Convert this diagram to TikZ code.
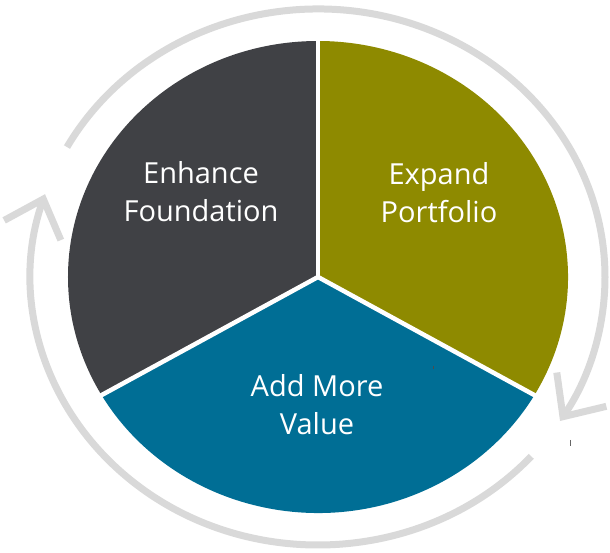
\documentclass[tikz,border=0pt]{standalone}
\usepackage{fontspec}
\setmainfont{Open Sans}
\usetikzlibrary{arrows.meta}
\definecolor{darkpie}{HTML}{404145}
\definecolor{olivepie}{HTML}{8E8A00}
\definecolor{bluepie}{HTML}{006E95}
\definecolor{ringgray}{HTML}{D9D9D9}

\begin{document}
\begin{tikzpicture}[x=1pt,y=1pt]
        \clip (-318,-276) rectangle (292,277);

        % the three sectors
        \fill[darkpie] (0,0) -- ({250*cos(90)},{236*sin(90)})
            arc[start angle=90, end angle=210, x radius=250, y radius=236] -- cycle;
        \fill[olivepie] (0,0) -- ({250*cos(-30)},{236*sin(-30)})
            arc[start angle=-30, end angle=90, x radius=250, y radius=236] -- cycle;
        \fill[bluepie] (0,0) -- ({250*cos(210)},{236*sin(210)})
            arc[start angle=210, end angle=330, x radius=250, y radius=236] -- cycle;
        \foreach \a in {90,210,330}
            \draw[white, line width=4.5pt] (0,0) -- ({256*cos(\a)},{242*sin(\a)});

        \begin{scope}[every node/.style={text=white, align=center,
                    font=\fontsize{29}{38}\selectfont}]
            \node (enhance) at (-117,85) {Enhance\\Foundation};
            \node (expand) at (121,84) {Expand\\Portfolio};
            \node (addvalue) at (-1,-128) {Add More\\Value};
        \end{scope}

        % cycle arrows round the pie
        \begin{scope}[ringgray, line width=7pt,
                    -{Straight Barb[length=33pt, width=60pt]}]
            \draw ({287*cos(151)},{268*sin(151)})
                arc[start angle=151, end angle=-32.5, x radius=287, y radius=268];
            \draw ({287*cos(-42)},{268*sin(-42)})
                arc[start angle=-42, end angle=-198, x radius=287, y radius=268];
        \end{scope}

        \draw[black!70, line width=1pt] (115,-89) -- (115,-92);
        \draw[black!60, line width=1pt] (252,-163) -- (252,-169);
    \end{tikzpicture}
\end{document}
